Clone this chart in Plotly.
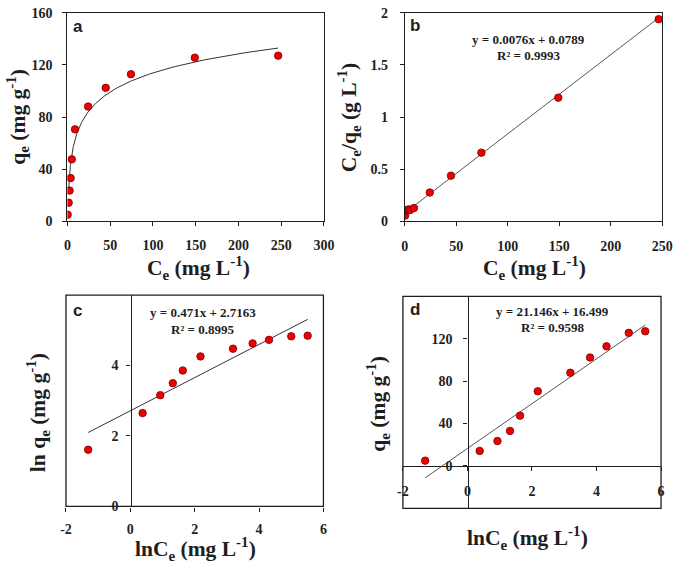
import numpy as np
import plotly.graph_objects as go

# ---------------- data ----------------
Ce = [0.27, 1.46, 2.53, 3.74, 5.1, 8.85, 24.2, 44.8, 74.3, 149.0, 246.5]
qe = [5.0, 14.2, 23.5, 33.1, 47.5, 70.5, 88.0, 102.4, 112.9, 125.6, 127.1]
Ce_over_qe = [0.054, 0.103, 0.108, 0.113, 0.107, 0.126, 0.275, 0.437, 0.658, 1.186, 1.939]
lnCe = [-1.31, 0.38, 0.93, 1.32, 1.63, 2.18, 3.19, 3.80, 4.31, 5.00, 5.51]
lnqe = [1.61, 2.65, 3.16, 3.50, 3.86, 4.26, 4.48, 4.63, 4.73, 4.83, 4.85]

langmuir_fit = (0.0076, 0.0789)     # slope, intercept (panel b)
freundlich_fit = (0.471, 2.7163)    # panel c
temkin_fit = (21.146, 16.499)       # panel d (also curve in panel a)

eq_b = ["y = 0.0076x + 0.0789", "R² = 0.9993"]
eq_c = ["y = 0.471x + 2.7163", "R² = 0.8995"]
eq_d = ["y = 21.146x + 16.499", "R² = 0.9598"]

ticks_a_x = [0, 50, 100, 150, 200, 250, 300]
ticks_a_y = [0, 40, 80, 120, 160]
ticks_b_x = [0, 50, 100, 150, 200, 250]
ticks_b_y = [0, 0.5, 1, 1.5, 2]
ticks_c_x = [-2, 0, 2, 4, 6]
ticks_c_y = [0, 2, 4]
ticks_d_x = [-2, 0, 2, 4, 6]
ticks_d_y = [0, 40, 80, 120]

# ---------------- layout helpers ----------------
W, H = 685, 566
def px(x):
    return x / W
def py(y):
    return 1 - y / H

SERIF = "Liberation Serif"
SANS = "Liberation Sans"
INK = "#1e1e1e"
marker = dict(color="#ee0000", size=7.5, line=dict(color="#7a0000", width=0.8))
fitline = dict(color="#555555", width=1)

fig = go.Figure()

# panel a
xa = np.geomspace(Ce[1], Ce[-1], 200)
fig.add_trace(go.Scatter(x=xa, y=temkin_fit[0] * np.log(xa) + temkin_fit[1],
                         mode="lines", line=dict(color="#333333", width=1),
                         xaxis="x", yaxis="y", showlegend=False, hoverinfo="skip"))
fig.add_trace(go.Scatter(x=Ce, y=qe, mode="markers", marker=marker,
                         xaxis="x", yaxis="y", showlegend=False))

# panel b
xb = np.array([0, Ce[-1]])
fig.add_trace(go.Scatter(x=xb, y=langmuir_fit[0] * xb + langmuir_fit[1], mode="lines",
                         line=fitline, xaxis="x2", yaxis="y2", showlegend=False))
fig.add_trace(go.Scatter(x=Ce, y=Ce_over_qe, mode="markers", marker=marker,
                         xaxis="x2", yaxis="y2", showlegend=False))

# panel c
xc = np.array([lnCe[0], lnCe[-1]])
fig.add_trace(go.Scatter(x=xc, y=freundlich_fit[0] * xc + freundlich_fit[1], mode="lines",
                         line=dict(color="#333333", width=1), xaxis="x3", yaxis="y3", showlegend=False))
fig.add_trace(go.Scatter(x=lnCe, y=lnqe, mode="markers", marker=marker,
                         xaxis="x3", yaxis="y3", showlegend=False))

# panel d
fig.add_trace(go.Scatter(x=xc, y=temkin_fit[0] * xc + temkin_fit[1], mode="lines",
                         line=fitline, xaxis="x4", yaxis="y4", showlegend=False))
fig.add_trace(go.Scatter(x=lnCe, y=qe, mode="markers", marker=marker,
                         xaxis="x4", yaxis="y4", showlegend=False))

tickfont = dict(family=SERIF, size=14, color=INK)

def ax(vals, **kw):
    base = dict(showline=True, linecolor=INK, linewidth=1.3, ticks="outside",
                ticklen=4, tickwidth=1, tickcolor=INK, showgrid=False,
                zeroline=False, tickfont=tickfont, tickmode="array",
                ticklabeloverflow="allow",
                tickvals=vals, ticktext=[f"<b>{v:g}</b>" for v in vals])
    base.update(kw)
    return base

fig.update_layout(
    width=W, height=H, margin=dict(l=0, r=0, t=0, b=0),
    plot_bgcolor="white", paper_bgcolor="white", showlegend=False,
    xaxis=ax(ticks_a_x, domain=[px(63), px(326)], range=[0, 300], anchor="y", mirror=True,
             ticklabelstandoff=7),
    yaxis=ax(ticks_a_y, domain=[py(220), py(6)], range=[0, 160], anchor="x", mirror=True,
             ticklabelstandoff=7),
    xaxis2=ax(ticks_b_x, domain=[px(409), px(673)], range=[0, 250], anchor="y2", mirror=True,
              ticklabelstandoff=8),
    yaxis2=ax(ticks_b_y, domain=[py(220), py(6)], range=[0, 2], anchor="x2", mirror=True,
              ticklabelstandoff=9),
    xaxis3=ax(ticks_c_x, domain=[px(61.5), px(325.5)], range=[-2, 6], anchor="y3",
              ticklabelstandoff=6),
    yaxis3=ax(ticks_c_y, domain=[py(513), py(296)], range=[0, 6], anchor="free",
              position=px(127.7), ticklabelstandoff=5),
    xaxis4=ax(ticks_d_x, domain=[px(407), px(671.7)], range=[-2, 6], anchor="free",
              position=py(471.7), ticklabelstandoff=8),
    yaxis4=ax(ticks_d_y, domain=[py(515), py(297.3)], range=[-40, 160], anchor="free",
              position=px(473.3), ticklabelstandoff=8),
)

# frames for panels c and d
for xr, yr in [("x3", "y3"), ("x4", "y4")]:
    fig.add_shape(type="rect", xref=f"{xr} domain", yref=f"{yr} domain",
                  x0=0, x1=1, y0=0, y1=1, line=dict(color=INK, width=1.3),
                  layer="above")

ann = []
def text(x, y, t, size=13, family=SERIF, angle=0):
    ann.append(dict(x=px(x), y=py(y), xref="paper", yref="paper", text=f"<b>{t}</b>",
                    showarrow=False, textangle=angle, xanchor="center", yanchor="middle",
                    font=dict(family=family, size=size, color=INK)))

# panel letters
text(74, 20, "a", size=17, family=SANS)
text(419, 19, "b", size=17, family=SANS)
text(73, 312, "c", size=17, family=SANS)
text(419, 311, "d", size=17, family=SANS)

# equations
text(536, 33, eq_b[0]); text(536, 50, eq_b[1])
text(202, 314, eq_c[0]); text(202, 331.5, eq_c[1])
text(560, 312.5, eq_d[0]); text(560, 329.5, eq_d[1])

# axis titles
TS = 21.5
xt_ce = "C<sub>e</sub> (mg L<sup>-1</sup>)"
xt_lnce = "lnC<sub>e</sub> (mg L<sup>-1</sup>)"
text(197, 268, xt_ce, size=TS)
text(542, 268, xt_ce, size=TS)
text(194, 557, xt_lnce, size=TS)
text(535, 545, xt_lnce, size=TS)
text(12, 113, "q<sub>e</sub> (mg g<sup>-1</sup>)", size=TS, angle=-90)
text(352, 113, "C<sub>e</sub>/q<sub>e</sub> (g L<sup>-1</sup>)", size=TS, angle=-90)
text(33, 417, "ln q<sub>e</sub> (mg g<sup>-1</sup>)", size=TS, angle=-90)
text(382, 408, "q<sub>e</sub> (mg g<sup>-1</sup>)", size=TS, angle=-90)
fig.update_layout(annotations=ann)

# remove the default 8px page margin so the figure sits at the window's corner
fig.write_html("out.html", config={"displayModeBar": False},
               post_script="document.body.style.margin='0';")
